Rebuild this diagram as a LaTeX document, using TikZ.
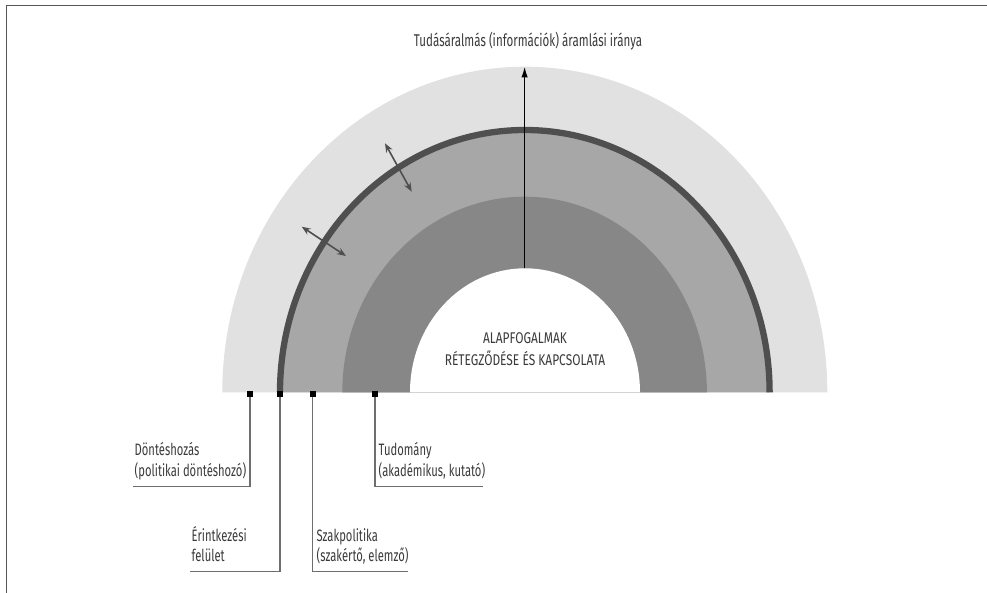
\documentclass[tikz,border=0pt]{standalone}
\usepackage{fontspec}
\setmainfont{Fira Sans}[FakeStretch=0.68]
\newfontfamily\capsfont{Fira Sans}[FakeStretch=0.77]
\usetikzlibrary{arrows.meta}
\definecolor{lightband}{HTML}{E1E1E1}
\definecolor{midband}{HTML}{A7A7A7}
\definecolor{darkband}{HTML}{878787}
\definecolor{ringc}{HTML}{4F4F4F}
\definecolor{connc}{HTML}{6E6E6E}
\definecolor{framec}{HTML}{555555}
\definecolor{txtc}{HTML}{3A3A3A}
\begin{document}
\begin{tikzpicture}[x=1pt,y=-1pt,
  sq/.style={fill=black,draw=none,minimum size=6pt,inner sep=0pt},
  conn/.style={draw=connc,line width=1.3pt},
  lbl/.style={anchor=base west,inner sep=0pt,text=txtc,font=\fontsize{16.5}{18}\selectfont},
  ttl/.style={anchor=base,inner sep=0pt,text=txtc,font=\fontsize{17}{18}\selectfont},
  ctr/.style={anchor=base,inner sep=0pt,text=txtc,font=\capsfont\fontsize{15.5}{18}\selectfont},
  dbl/.style={draw=ringc,line width=1.6pt,{Stealth[length=9pt,width=7pt]}-{Stealth[length=9pt,width=7pt]}}
]
\useasboundingbox (0,0) rectangle (987,593);
% frame
\draw[framec,line width=1.6pt] (6.5,593) -- (6.5,5.5) -- (987,5.5);
% bands
\fill[lightband] (222.3,392.3) arc[start angle=180,end angle=0,x radius=302.5pt,y radius=325.6pt] -- cycle;
\fill[midband] (280,392.3) arc[start angle=180,end angle=0,x radius=244.8pt,y radius=262.3pt] -- cycle;
\fill[darkband] (342.3,392.3) arc[start angle=180,end angle=0,x radius=182.3pt,y radius=195.6pt] -- cycle;
\fill[white] (410,392.3) arc[start angle=180,end angle=0,x radius=115pt,y radius=124pt] -- cycle;
\draw[ringc,line width=6.3pt] (280,392.3) arc[start angle=180,end angle=0,x radius=244.8pt,y radius=262.3pt];
% main arrow
\coordinate (atail) at (524.6,268.3);
\coordinate (ahead) at (524.6,66.5);
\draw[-{Latex[length=11pt,width=6.5pt]},line width=1.5pt,black] (atail) -- (ahead);
% double arrows
\coordinate (d1a) at (385,143.3);
\coordinate (d1b) at (411.7,191.7);
\draw[dbl] (d1a) -- (d1b);
\coordinate (d2a) at (301.7,226.7);
\coordinate (d2b) at (346,256);
\draw[dbl] (d2a) -- (d2b);
% texts
\node[ttl] (title) at (528,46.5) {Tudásáralmás (információk) áramlási iránya};
\node[ctr] (c1) at (525,343.3) {ALAPFOGALMAK};
\node[ctr] (c2) at (525,365) {RÉTEGZŐDÉSE ÉS KAPCSOLATA};
% squares
\node[sq] (s1) at (250,394) {};
\node[sq] (s2) at (280,394) {};
\node[sq] (s3) at (312.7,394) {};
\node[sq] (s4) at (375,394) {};
% connectors
\coordinate (k1) at (250,486.7); \coordinate (e1) at (133,486.7);
\coordinate (k2) at (280,571.7); \coordinate (e2) at (190,571.7);
\coordinate (k3) at (312.7,571.7); \coordinate (e3) at (408.3,571.7);
\coordinate (k4) at (375,486.7); \coordinate (e4) at (483.3,486.7);
\draw[conn] (s1) -- (k1) -- (e1);
\draw[conn] (s2) -- (k2) -- (e2);
\draw[conn] (s3) -- (k3) -- (e3);
\draw[conn] (s4) -- (k4) -- (e4);
% labels
\node[lbl] (l1a) at (134.5,455) {Döntéshozás};
\node[lbl] (l1b) at (134.5,476) {(politikai döntéshozó)};
\node[lbl] (l2a) at (191.5,541) {Érintkezési};
\node[lbl] (l2b) at (191.5,561.5) {felület};
\node[lbl] (l3a) at (316.5,541) {Szakpolitika};
\node[lbl] (l3b) at (316.5,561.5) {(szakértő, elemző)};
\node[lbl] (l4a) at (378.5,455) {Tudomány};
\node[lbl] (l4b) at (378.5,476) {(akadémikus, kutató)};
\end{tikzpicture}
\end{document}
